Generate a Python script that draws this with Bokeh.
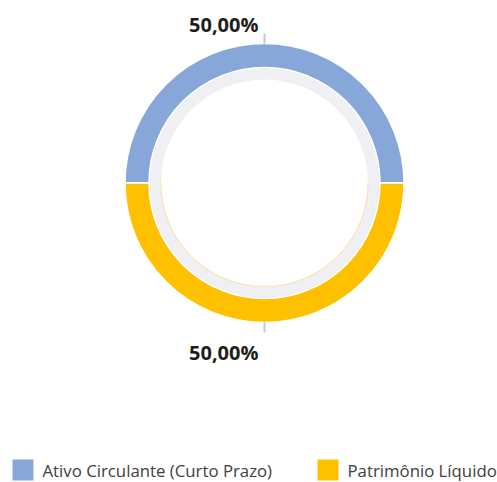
import math
from bokeh.plotting import figure
from bokeh.models import Range1d, ColumnDataSource
from bokeh.core.properties import value
from bokeh.embed import file_html
from bokeh.resources import INLINE

# ---- data ----
categories = ["Ativo Circulante (Curto Prazo)", "Patrimônio Líquido"]
values = [50.0, 50.0]
labels = ["50,00%", "50,00%"]
colors = ["#86A7D8", "#FFC000"]

# ---- layout (pixels, donut centre at 0,0) ----
W, H = 497, 482
CX, CY = 264, 182.5          # centre offset inside the figure (from left, from top)
R_OUT, R_MID, R_IN = 139.5, 115.5, 103.5

p = figure(width=W, height=H, output_backend="svg", toolbar_location=None,
           x_range=Range1d(-CX, W - CX), y_range=Range1d(-(H - CY), CY),
           min_border=0, outline_line_color=None)
p.axis.visible = False
p.grid.visible = False
p.background_fill_color = "white"
p.border_fill_color = "white"

total = sum(values)
starts, ends, mids = [], [], []
acc = 0.0
for v in values:
    a0 = 2 * math.pi * acc / total
    acc += v
    a1 = 2 * math.pi * acc / total
    starts.append(a0); ends.append(a1); mids.append((a0 + a1) / 2)

# grey inner ring
p.annulus(x=0, y=0, inner_radius=R_IN, outer_radius=R_MID,
          fill_color="#EFEFF4", line_color=None)

src = ColumnDataSource(dict(start=starts, end=ends, color=colors, cat=categories))
p.annular_wedge(x=0, y=0, inner_radius=R_MID, outer_radius=R_OUT,
                start_angle="start", end_angle="end", fill_color="color",
                line_color="white", line_width=1.5, source=src)

# faint inner outline of the yellow slice
p.arc(x=0, y=0, radius=R_IN, start_angle=starts[1], end_angle=ends[1],
      line_color="#FFC000", line_alpha=0.35, line_width=1)

# leader ticks and labels
for m, lab in zip(mids, labels):
    cx, sy = math.cos(m), math.sin(m)
    p.segment(x0=[R_OUT * cx], y0=[R_OUT * sy], x1=[(R_OUT + 10) * cx],
              y1=[(R_OUT + 10) * sy], line_color="#C8C8C8", line_width=2)
    ty = (R_OUT + 19) if sy > 0 else -(R_OUT + 30)
    p.text(x=[(R_OUT + 10) * cx - 6], y=[ty], text=[lab],
           text_font=value("Open Sans"), text_font_style="bold",
           text_font_size="20px", text_color="#1E1E1E",
           text_align="right", text_baseline="alphabetic")

# legend
LY = CY - 469.5
sq = 21
leg_x = [12, 317]
for lx, c, name in zip(leg_x, colors, categories):
    x0 = lx - CX
    p.rect(x=[x0 + sq / 2], y=[LY], width=sq, height=sq, fill_color=c, line_color=None)
    p.text(x=[x0 + 30], y=[LY], text=[name], text_font=value("Open Sans"),
           text_font_size="16.8px", text_color="#404040",
           text_align="left", text_baseline="middle")

open("out.html", "w").write(file_html(p, INLINE))
